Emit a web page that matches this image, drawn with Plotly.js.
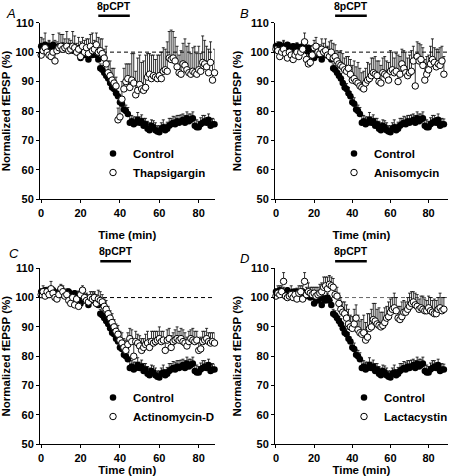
<!DOCTYPE html>
<html><head><meta charset="utf-8">
<script src="https://cdn.plot.ly/plotly-3.0.1.min.js"></script>
<style>html,body{margin:0;padding:0;background:#fff}</style>
</head><body><div id="chart" style="width:453px;height:476px"></div>
<script>
const time = [0,1,2,3,4,5,6,7,8,9,10,11,12,13,14,15,16,17,18,19,20,21,22,23,24,25,26,27,28,29,30,31,32,33,34,35,36,37,38,39,40,41,42,43,44,45,46,47,48,49,50,51,52,53,54,55,56,57,58,59,60,61,62,63,64,65,66,67,68,69,70,71,72,73,74,75,76,77,78,79,80,81,82,83,84,85,86,87,88];

const control = [102,101.5,102.5,101,102,101.5,102.5,101,101.5,102,
 101,102,101.5,101,102,101,100.5,101.5,100,101,
 98,99.5,99,100,97.5,99.5,99,100,99,97.5,
 94.5,94,93,92,91,89.5,88,87.5,86,85,
 83,82.5,80.5,80,79,76,76.5,75.5,76,77,
 76,76.5,75,75.5,74,73.5,75,74.5,73.5,73,
 72.8,74,74.5,73.5,74,75,75.5,76,75.5,76.5,
 76,76.5,77,76,77.5,76.5,77,77.5,75,74.5,
 74.5,75.5,76,76.5,76,77,75,75.5,75.5];
const controlErr = [1,1.2,0.8,1,1.5,1,0.8,1.2,1,0.8,1,1.2,1,0.8,1,1.3,1,0.8,1,1.2,1.5,1,1.2,1,1.5,1.2,1,1.5,1.2,1.5,
 1.5,1.5,1.2,1.5,1.8,1.5,1.5,1.8,2,1.5,1.8,2,1.8,2,2.2,
 2.5,2,2.5,2,2.5,2,2.2,2.5,2,2.5,2.5,2,2.2,2.5,2,2.2,2,2.5,2,2.2,2.5,2,2.2,2.5,2,2.5,2.2,2,2.5,2.2,2.5,2,2.2,2,2.5,2,2.2,2.5,2,1.8,2,2.2,2,1.8];

const thapsigargin = [99,100.5,101.5,100,99,98.5,100,97,100.5,101.5,
 102,101,101.5,102,100.5,101,102,101.5,100,101,
 98.5,102,100,101.5,99.5,102,100.5,101,102.5,100,
 100.5,99.5,98,96,93,92,90.5,89.5,88.5,77,
 78,84,87.5,90,91,88,90.5,89.5,85.5,87,
 89,87.5,87,88,91.5,92.5,91,92,91.5,91,
 92,91,93.5,94,93.5,98,97.5,98,97,95,
 93,92.5,96,95.5,94,93,92.5,93.5,93,92.5,
 94,93.5,96.5,96,95,93,96.5,90.5,93];
const thapsigarginErr = [6,4,5,3,5,4,6,7,3,5,4,5,3,5,4,3,5,4,3,4,5,3,4,3,5,4,6,3,4,5,
 4,5,3,6,4,5,4,5,3,4,5,6,7,6,5,
 8,9,10,8,11,10,9,10,11,8,7,8,7,6,8,7,9,8,7,10,9,10,9,8,7,6,8,7,9,8,10,7,8,9,7,8,6,9,8,7,8,7,6,8];

const anisomycin = [101,100.5,98.5,100,101,99.5,98,100,99,97.5,
 99,100,98.5,100,101,103.5,97.5,96,96.5,99,
 101.5,102,100,99.5,101,100,100.5,99,98.5,100,
 98,98.5,97,96,95.5,95,94,93.5,94.5,92.5,
 90.5,91,90,89.5,88.5,88,87.5,89.5,90.5,91,
 92,93,92.5,92,90,89.5,93,92.5,92,90.5,
 93.5,94,93,93.5,90,92.5,96,94.5,93,92,
 93,93.5,97,88.5,98.5,97,97.5,95.5,90.5,92.5,
 94,96,97.5,96.5,95,96,95.5,97,92.5];
const anisomycinErr = [2,3,2.5,2,3,2,2.5,3,2,2.5,3,2,3,2.5,2,3,2,3,2.5,3,2.5,3,2,3,3.5,3,4,3,5,4,
 5,4,3.5,4,5,4.5,4,5,4,5,
 5,6,5,7,6,5,6,5,6,5,6,5,6,5,7,6,5,6,5,6,7,6,5,6,9,6,5,6,7,6,6,7,5,8,5,6,5,6,7,6,5,6,7,5,6,5,6,5,6];

const actinomycinD = [101,102,100.5,102,101,103,101.5,100,99.5,101,
 103,102,100.5,101,99,98,100,97.5,99.5,97,
 101,102.5,100,99,98.5,100,99.5,100,98,99.5,
 99,98.5,97,96,94.5,93,91.5,90,88.5,87.5,
 85.5,84.5,83,82,84,86,85,80,85,84.5,
 83.5,82,83,84,84.5,83,85,84.5,85,85.5,
 86,85,85.5,82,85.5,86,83,85,85.5,86,
 85.5,86,85,84.5,83.5,85,86,85.5,85,85.5,
 82,82.5,85,85.5,86,85,84.5,85,84.5];
const actinomycinDErr = [1.5,2,2.5,1.5,2,2.5,2,1.5,2,2,1.5,2,1.5,2,2.5,2,1.5,2,2,1.5,2,1.5,2,2.5,2,2,2.5,2,3,3,
 3,2.5,2.5,3,2.5,2.5,3,2.5,2.5,3,
 3,3.5,3,3.5,4,3.5,4,4.5,3.5,3,3.5,4,3,3.5,4,3,3.5,4,3.5,3,4,3.5,3,4,3.5,3.5,4,3,3.5,4,3,3.5,4,3.5,3,3.5,3,4,3.5,3,3.5,4,3.5,3,3.5,3,3.5,3,3.5];

const lactacystin = [100.5,101.5,101,102,105.5,100.5,100,100.5,101,100,
 101,99.5,101.5,102,99.5,105.5,101,102,101.5,101,
 101.5,100.5,101,101.5,102,103.5,104,103,104.5,104,
 103.5,101,100.5,98,96,95,94.5,93,91,90,
 89.5,91,93,89,88,87.5,88,85.5,86.5,89.5,
 90,92.5,92,91,90.5,90,90.5,91.5,93,93.5,
 95,96,96.5,95.5,93,92.5,93.5,95,95,96,
 97,98,98.5,97.5,97,96,96.5,96,95.5,95.5,
 96.5,95.5,95,94.5,94.5,96,96.5,95.5,96];
const lactacystinErr = [2,2.5,3,2,3,2,2.5,2,3,2.5,2,3,2.5,2,4.5,3,2.5,3,2,2.5,2,3,2.5,3,3,3.5,3,4,3,3,
 3,2.5,3,3.5,4,3.5,4,4.5,5,4,
 4,5,4.5,5,4,5,6,6,8,5,6,5.5,6,5,6,5,4.5,5,4,5,4.5,4,5,4.5,4,4.5,5,4,3.5,4,4.5,4,3.5,4,4,3.5,4,4.5,4,3.5,4,4.5,4,5,4.5,4,5,4.5,4];

const panelLetters = ['A','B','C','D'];
const treatmentNames = ['Thapsigargin','Anisomycin','Actinomycin-D','Lactacystin'];
const treatmentValues = [thapsigargin, anisomycin, actinomycinD, lactacystin];
const treatmentErrors = [thapsigarginErr, anisomycinErr, actinomycinDErr, lactacystinErr];
const drugLabel = '8pCPT';
const drugStart = [29, 31, 30, 31];
const drugEnd = [45, 47.6, 45.6, 47.6];
const xTicks = [0,20,40,60,80];
const yTicks = [50,60,70,80,90,100,110];
const baseline = 100;

// ---- layout geometry (pixels) ----
const W = 453, H = 476;
const FONT = 'Liberation Sans, Arial, Helvetica, sans-serif';
const geo = [
  {xd:[40,214.5], yd:[22.7,199.3], xr:[-0.6,88], leg:[93,139], let:[4,13.3]},
  {xd:[275,447.7], yd:[22.7,199.3], xr:[-0.5,90], leg:[334,139], let:[238,13.3]},
  {xd:[40,214.5], yd:[268.2,444.3], xr:[-0.6,88], leg:[93,383], let:[7,253]},
  {xd:[275,447.7], yd:[268.2,444.3], xr:[-0.5,90], leg:[344,383], let:[238,258]}
];
const zeros = time.map(() => 0);

const traces = [];
const layout = {
  width: W, height: H, margin: {l:0,r:0,t:0,b:0},
  paper_bgcolor: '#fff', plot_bgcolor: 'rgba(0,0,0,0)',
  font: {family: FONT, size: 11, color: '#000', weight: 'bold'},
  showlegend: true, hovermode: false,
  shapes: [], annotations: []
};

geo.forEach((g, i) => {
  const n = i === 0 ? '' : String(i + 1);
  const xa = 'x' + n, ya = 'y' + n;
  const legName = 'legend' + n;
  const errStyle = {type:'data', symmetric:false, arrayminus: zeros, color:'#000', thickness:0.8, width:1.5, visible:true};
  traces.push({
    x: time, y: control, xaxis: xa, yaxis: ya, legend: legName,
    type: 'scatter', mode: 'markers', name: 'Control',
    marker: {symbol:'circle', size:6.5, color:'#000', line:{width:0}},
    error_y: Object.assign({array: controlErr}, errStyle), cliponaxis: false
  });
  traces.push({
    x: time, y: treatmentValues[i], xaxis: xa, yaxis: ya, legend: legName,
    type: 'scatter', mode: 'markers', name: treatmentNames[i],
    marker: {symbol:'circle', size:6.5, color:'#fff', line:{width:1, color:'#000'}},
    error_y: Object.assign({array: treatmentErrors[i]}, errStyle), cliponaxis: false
  });
  layout['xaxis' + n] = {
    domain: [g.xd[0]/W, g.xd[1]/W], range: g.xr, anchor: ya,
    showline: true, linecolor:'#000', linewidth:1, ticks:'outside', ticklen:3, tickwidth:1, tickcolor:'#000',
    tickvals: xTicks, showgrid:false, zeroline:false,
    tickfont: {family: FONT, size: 11, weight:'bold'},
    title: {text:'Time (min)', font:{family: FONT, size: 11.5, weight:'bold'}, standoff: 13}
  };
  layout['yaxis' + n] = {
    domain: [1 - g.yd[1]/H, 1 - g.yd[0]/H], range: [50,110], anchor: xa,
    showline: true, linecolor:'#000', linewidth:1, ticks:'outside', ticklen:3, tickwidth:1, tickcolor:'#000',
    tickvals: yTicks, showgrid:false, zeroline:false,
    tickfont: {family: FONT, size: 11, weight:'bold'},
    title: {text:'Normalized fEPSP (%)', font:{family: FONT, size: 11.5, weight:'bold'}, standoff: 6}
  };
  layout[legName] = {
    x: g.leg[0]/W, y: 1 - g.leg[1]/H, xanchor:'left', yanchor:'top',
    bgcolor:'rgba(0,0,0,0)', borderwidth:0,
    font: {family: FONT, size: 11.5, weight:'bold', color:'#000'},
    tracegroupgap: 0, itemclick:false
  };
  layout.shapes.push({
    type:'line', xref: xa + ' domain', yref: ya, x0: 0, x1: 1, y0: baseline, y1: baseline,
    line:{color: i === 3 ? '#666' : '#000', width:1, dash:'4px,3px'}, layer:'below'
  });
  layout.shapes.push({
    type:'line', xref: xa, yref:'paper', x0: drugStart[i], x1: drugEnd[i],
    y0: 1 - (g.yd[0]-7)/H, y1: 1 - (g.yd[0]-7)/H,
    line:{color:'#000', width:2.5}
  });
  layout.annotations.push({
    text: drugLabel, xref: xa, yref:'paper', x: (drugStart[i]+drugEnd[i])/2, y: 1 - (g.yd[0]-17)/H,
    xanchor:'center', yanchor:'middle', showarrow:false,
    font:{family: FONT, size: 10.5, weight:'bold', color:'#000'}
  });
  layout.annotations.push({
    text: panelLetters[i], xref:'paper', yref:'paper', x: g.let[0]/W, y: 1 - g.let[1]/H,
    xanchor:'left', yanchor:'middle', showarrow:false,
    font:{family: FONT, size: 13, style:'italic', weight:'normal', color:'#000'}
  });
});

Plotly.newPlot('chart', traces, layout, {staticPlot:true, displayModeBar:false});
</script></body></html>
